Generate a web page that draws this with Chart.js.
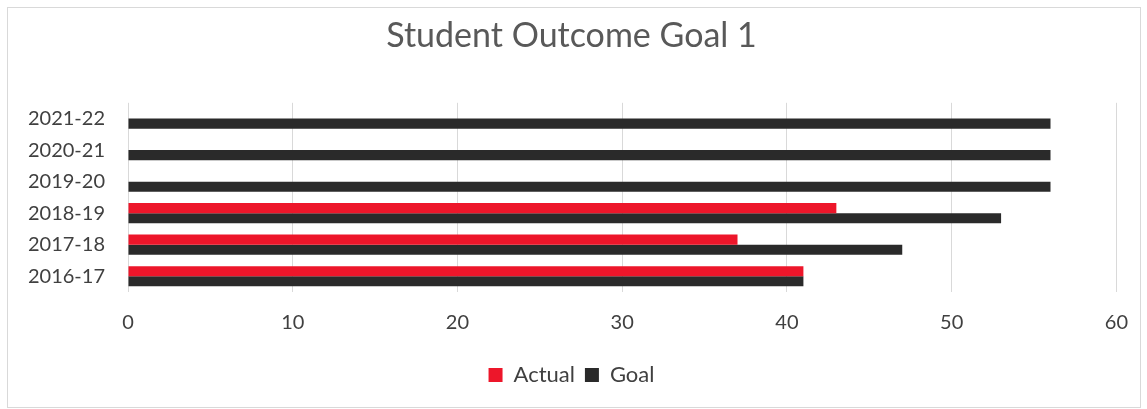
<!DOCTYPE html>
<html>
<head>
<meta charset="utf-8">
<script src="https://cdn.jsdelivr.net/npm/chart.js@4"></script>
<style>
  html, body { margin: 0; padding: 0; background: #fff; }
  #frame { position: absolute; left: 7px; top: 7px; width: 1132px; height: 399px; border: 1px solid #d9d9d9; }
  #wrap { position: absolute; left: 0; top: 0; width: 1147px; height: 409px; }
</style>
</head>
<body>
<div id="frame"></div>
<div id="wrap"><canvas id="outcomeChart"></canvas></div>
<script>
// years listed top to bottom as in the picture
var years = ['2021-22', '2020-21', '2019-20', '2018-19', '2017-18', '2016-17'];
var actualValues = [null, null, null, 43, 37, 41];
var goalValues = [56, 56, 56, 53, 47, 41];
var xTicks = [0, 10, 20, 30, 40, 50, 60];

var ctx = document.getElementById('outcomeChart').getContext('2d');

var outcomeChart = new Chart(ctx, {
    type: 'bar',
    data: {
        labels: years,
        datasets: [{
            label: 'Actual',
            data: actualValues,
            backgroundColor: 'rgb(237, 22, 42)',
        }, {
            label: 'Goal',
            data: goalValues,
            backgroundColor: 'rgb(42, 42, 42)',
        }]
    },
    options: {
        indexAxis: 'y',
        responsive: true,
        maintainAspectRatio: false,
        animation: false,
        categoryPercentage: 0.64,
        barPercentage: 1.0,
        layout: {
            padding: { left: 26, right: 30, top: 0, bottom: 13 }
        },
        scales: {
            x: {
                min: 0,
                max: 60,
                afterBuildTicks: function (axis) {
                    axis.ticks = xTicks.map(v => ({ value: v }));
                },
                grid: { color: '#d9d9d9', drawTicks: false },
                border: { display: false },
                ticks: {
                    color: '#404040',
                    font: { family: 'Lato', size: 20 },
                    padding: 19
                }
            },
            y: {
                // plot area starts at x=128
                afterFit: function (axis) {
                    axis.width = 102;
                },
                grid: { display: false, drawTicks: false },
                border: { display: false },
                ticks: {
                    color: '#404040',
                    font: { family: 'Lato', size: 20 },
                    padding: 23
                }
            }
        },
        plugins: {
            title: {
                display: true,
                text: 'Student Outcome Goal 1',
                color: '#595959',
                font: { family: 'Lato', size: 34, weight: 'normal' },
                padding: { top: 16, bottom: 46 }
            },
            legend: {
                position: 'bottom',
                labels: {
                    color: '#404040',
                    font: { family: 'Lato', size: 22 },
                    boxWidth: 14,
                    boxHeight: 14,
                    padding: 10
                }
            },
            tooltip: { enabled: false }
        }
    }
});
</script>
</body>
</html>
